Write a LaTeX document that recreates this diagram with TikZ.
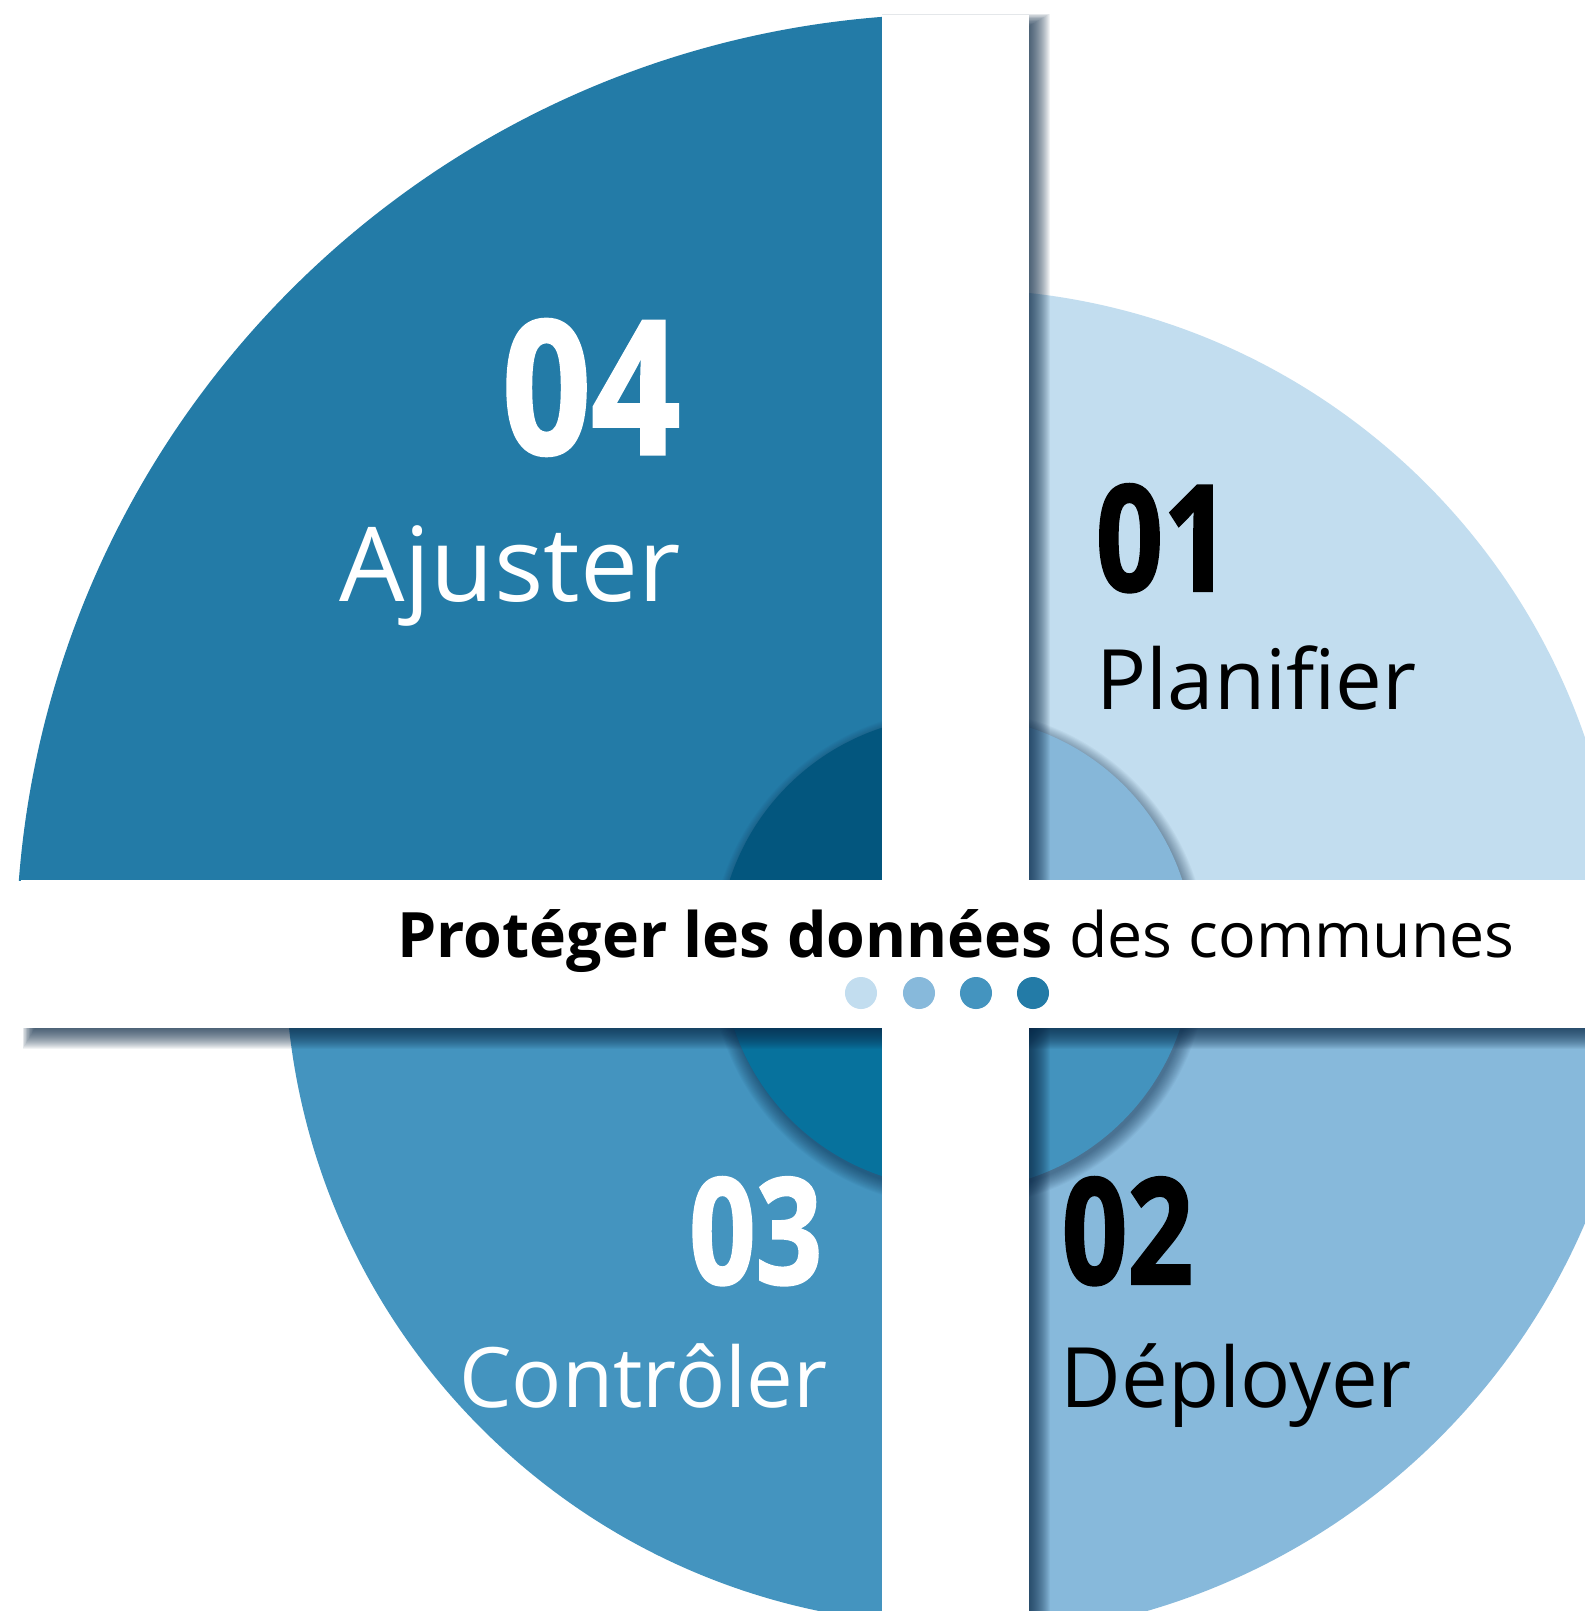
\documentclass[tikz,border=0pt]{standalone}
\usepackage{fontspec}
\setmainfont{Open Sans}
\newfontfamily\numfont{Open Sans}[BoldFeatures={FakeBold=1.6}]
\usepackage{graphicx}
\definecolor{qA}{HTML}{237BA7}
\definecolor{qAi}{HTML}{03567E}
\definecolor{qB}{HTML}{C2DDEF}
\definecolor{qBi}{HTML}{86B7D9}
\definecolor{qC}{HTML}{87B9DB}
\definecolor{qCi}{HTML}{4393BE}
\definecolor{qD}{HTML}{4494BF}
\definecolor{qDi}{HTML}{07729D}
\definecolor{shd}{RGB}{10,40,70}
\newcommand\bignum[3]{\scalebox{#1}[1]{\numfont\fontsize{#2}{#2}\selectfont\bfseries #3}}
\begin{document}
\begin{tikzpicture}[x=0.01cm,y=0.01cm,
  lbl/.style={inner sep=0pt, font=\fontsize{23.7}{25}\selectfont},
  biglbl/.style={inner sep=0pt, font=\fontsize{29.4}{31}\selectfont},
  num/.style={inner sep=0pt},
  dotnode/.style={circle, inner sep=0pt, minimum size=0.32cm, draw=none},
  cshadow/.style={shd, opacity=0.04}]
\fill[white] (0,0) rectangle (1585,-1611);
\useasboundingbox (0,0) rectangle (1585,-1611);
\coordinate (C) at (956,-954);
% quadrant 04 (top-left)
\begin{scope}
  \clip (0,-15) rectangle (882,-880);
  \fill[qA] (C) circle (940);
  \foreach \k in {0,...,14} \fill[cshadow] (959,-958) circle ({235+\k});
  \fill[qAi] (C) circle (238);
\end{scope}
% quadrant 01 (top-right)
\begin{scope}
  \clip (1029,0) rectangle (1585,-880);
  \fill[qB] (C) circle (665);
  \foreach \k in {0,...,14} \fill[cshadow] (959,-958) circle ({235+\k});
  \fill[qBi] (C) circle (238);
\end{scope}
% quadrant 02 (bottom-right)
\begin{scope}
  \clip (1029,-1028) rectangle (1585,-1611);
  \fill[qC] (C) circle (684);
  \foreach \k in {0,...,14} \fill[cshadow] (959,-958) circle ({235+\k});
  \fill[qCi] (C) circle (236);
\end{scope}
% quadrant 03 (bottom-left)
\begin{scope}
  \clip (0,-1028) rectangle (882,-1611);
  \fill[qD] (C) circle (671);
  \foreach \k in {0,...,14} \fill[cshadow] (959,-958) circle ({235+\k});
  \fill[qDi] (C) circle (234);
\end{scope}
% band shadows
\foreach \k in {0,...,24} {
  \fill[shd, opacity=0.055] (882,{-(28-0.6*\k)}) rectangle ({1026+\k},-1611);
  \fill[shd, opacity=0.055] ({21+16-0.6*\k},-880) rectangle (1585,{-(1025+\k)});
}
% white cross
\fill[white] (882,-15) rectangle (1029,-1611);
\fill[white] (21,-880) rectangle (1585,-1028);
% texts
\node[num, anchor=base east, text=white] (n04) at (681,-454) {\bignum{0.84}{52.9pt}{04}};
\node[biglbl, anchor=base east, text=white] (l04) at (681,-601) {Ajuster};
\node[num, anchor=base west, text=black] (n01) at (1095,-591) {\bignum{0.8}{42pt}{01}};
\node[lbl, anchor=base west, text=black] (l01) at (1096,-709) {Planifier};
\node[num, anchor=base west, text=black] (n02) at (1061,-1284) {\bignum{0.78}{42pt}{02}};
\node[lbl, anchor=base west, text=black] (l02) at (1060,-1407) {Déployer};
\node[num, anchor=base east, text=white] (n03) at (823,-1284) {\bignum{0.79}{42pt}{03}};
\node[lbl, anchor=base east, text=white] (l03) at (828,-1407) {Contrôler};
\node[inner sep=0pt, anchor=base, font=\fontsize{17.8}{20}\selectfont] (title) at (956,-957) {\textbf{Protéger les données} des communes};
\node[dotnode, fill=qB] (d1) at (861,-993) {};
\node[dotnode, fill=qC] (d2) at (919,-993) {};
\node[dotnode, fill=qD] (d3) at (976,-993) {};
\node[dotnode, fill=qA] (d4) at (1033,-993) {};
\end{tikzpicture}
\end{document}
